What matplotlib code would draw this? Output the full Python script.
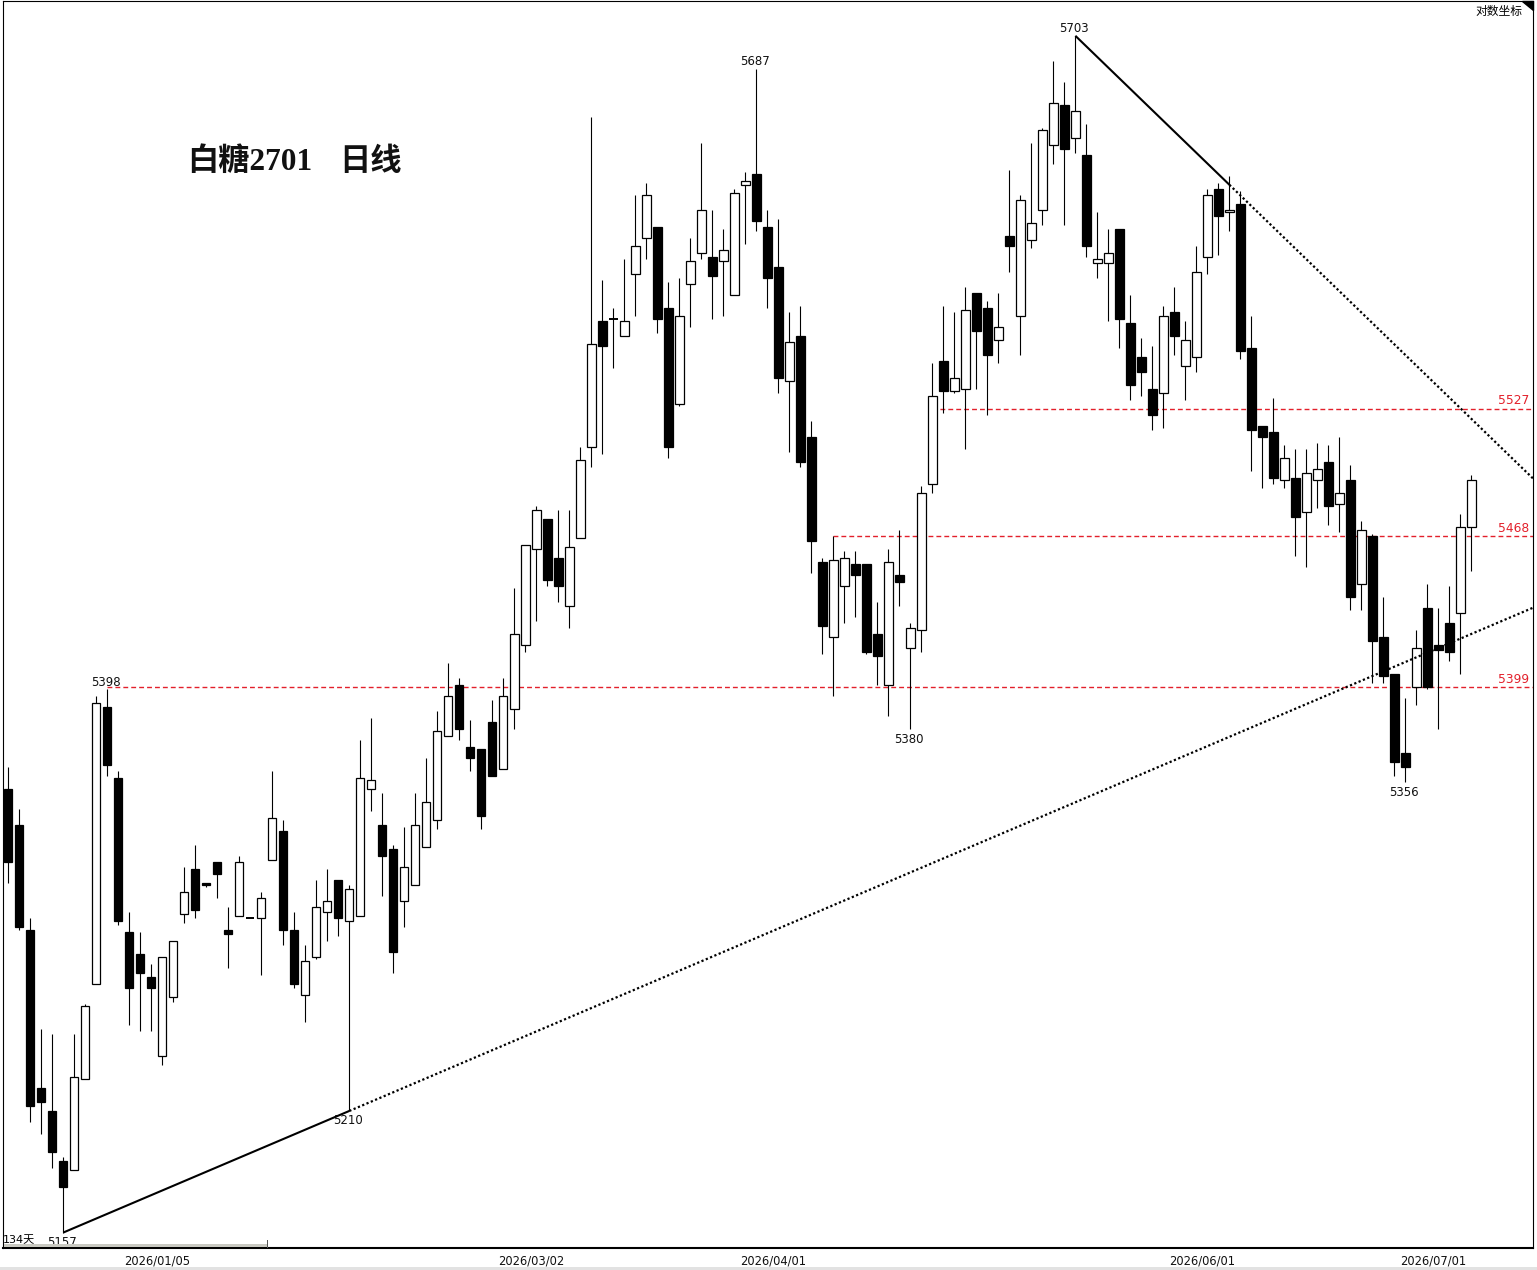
import matplotlib
matplotlib.use("Agg")
import matplotlib.pyplot as plt
from matplotlib.patches import Polygon, Rectangle
from matplotlib.ticker import NullLocator
import numpy as np

plt.rcParams['font.family'] = ['DejaVu Sans', 'Noto Sans CJK SC']

# ---------------- data ----------------
opens = [5353, 5337, 5290, 5220, 5210, 5188, 5184, 5224, 5266, 5390,
         5358, 5289, 5279, 5269, 5234, 5260, 5297, 5317, 5311, 5320,
         5290, 5296, 5295, 5295, 5321, 5334, 5290, 5261, 5278, 5298,
         5312, 5294, 5296, 5353, 5337, 5326, 5303, 5310, 5327, 5339,
         5377, 5400, 5372, 5371, 5383, 5362, 5389, 5418, 5462, 5476,
         5458, 5436, 5467, 5509, 5568, 5569, 5561, 5590, 5607, 5612,
         5574, 5529, 5585, 5600, 5598, 5596, 5580, 5632, 5637, 5612,
         5593, 5540, 5561, 5514, 5456, 5422, 5445, 5455, 5455, 5423,
         5400, 5450, 5417, 5425, 5492, 5549, 5535, 5536, 5581, 5574,
         5559, 5608, 5570, 5606, 5620, 5651, 5670, 5654, 5646, 5595,
         5595, 5611, 5567, 5551, 5536, 5534, 5572, 5547, 5551, 5598,
         5630, 5619, 5623, 5555, 5519, 5516, 5494, 5495, 5479, 5494,
         5502, 5483, 5494, 5446, 5468, 5422, 5405, 5369, 5399, 5435,
         5418, 5428, 5433, 5472]
highs = [5363, 5344, 5295, 5246, 5244, 5190, 5244, 5257, 5395, 5398,
         5361, 5298, 5289, 5275, 5278, 5285, 5318, 5328, 5311, 5320,
         5300, 5323, 5295, 5307, 5361, 5339, 5298, 5283, 5312, 5317,
         5312, 5310, 5375, 5385, 5351, 5328, 5336, 5351, 5367, 5388,
         5410, 5403, 5384, 5371, 5393, 5403, 5444, 5464, 5482, 5476,
         5480, 5480, 5509, 5664, 5587, 5574, 5597, 5627, 5633, 5612,
         5586, 5588, 5607, 5652, 5620, 5611, 5630, 5638, 5687, 5620,
         5616, 5572, 5575, 5521, 5458, 5468, 5461, 5461, 5455, 5438,
         5462, 5471, 5428, 5491, 5548, 5575, 5572, 5584, 5581, 5577,
         5581, 5639, 5627, 5652, 5659, 5691, 5681, 5703, 5661, 5619,
         5611, 5611, 5580, 5560, 5556, 5575, 5584, 5568, 5603, 5630,
         5633, 5636, 5629, 5570, 5519, 5532, 5510, 5508, 5508, 5511,
         5510, 5514, 5501, 5475, 5469, 5440, 5405, 5394, 5425, 5446,
         5435, 5445, 5478, 5496]
lows = [5311, 5290, 5205, 5200, 5185, 5157, 5184, 5224, 5266, 5359,
        5292, 5248, 5245, 5245, 5230, 5258, 5293, 5295, 5309, 5304,
        5273, 5296, 5295, 5270, 5321, 5283, 5264, 5249, 5277, 5285,
        5287, 5210, 5296, 5343, 5305, 5271, 5291, 5310, 5327, 5335,
        5377, 5375, 5361, 5335, 5359, 5362, 5380, 5415, 5429, 5445,
        5438, 5426, 5467, 5500, 5506, 5546, 5561, 5570, 5597, 5562,
        5504, 5528, 5565, 5597, 5569, 5570, 5580, 5604, 5610, 5574,
        5534, 5507, 5500, 5451, 5414, 5395, 5428, 5431, 5414, 5400,
        5386, 5436, 5380, 5415, 5488, 5525, 5534, 5508, 5536, 5524,
        5548, 5591, 5552, 5602, 5613, 5642, 5613, 5647, 5598, 5588,
        5568, 5555, 5531, 5533, 5517, 5518, 5552, 5531, 5544, 5590,
        5599, 5610, 5550, 5498, 5490, 5492, 5490, 5459, 5454, 5481,
        5473, 5470, 5434, 5434, 5401, 5401, 5359, 5356, 5391, 5398,
        5380, 5411, 5405, 5452]
closes = [5320, 5291, 5212, 5214, 5192, 5177, 5225, 5256, 5392, 5364,
          5294, 5264, 5271, 5264, 5278, 5285, 5307, 5299, 5310, 5315,
          5288, 5320, 5295, 5304, 5340, 5290, 5266, 5276, 5300, 5303,
          5295, 5308, 5358, 5357, 5323, 5280, 5318, 5337, 5347, 5379,
          5395, 5380, 5367, 5341, 5359, 5395, 5423, 5464, 5480, 5448,
          5445, 5463, 5503, 5557, 5556, 5569, 5568, 5603, 5627, 5569,
          5509, 5570, 5596, 5620, 5589, 5601, 5628, 5634, 5615, 5588,
          5541, 5558, 5502, 5466, 5427, 5457, 5458, 5450, 5415, 5413,
          5456, 5447, 5426, 5488, 5533, 5535, 5541, 5573, 5563, 5552,
          5565, 5603, 5625, 5614, 5658, 5671, 5649, 5667, 5603, 5597,
          5600, 5569, 5538, 5544, 5524, 5570, 5561, 5559, 5591, 5627,
          5617, 5620, 5554, 5517, 5514, 5495, 5504, 5477, 5497, 5499,
          5482, 5488, 5440, 5471, 5420, 5404, 5365, 5363, 5417, 5399,
          5416, 5415, 5472, 5494]

date_labels = ['2026/01/05', '2026/03/02', '2026/04/01', '2026/06/01', '2026/07/01']
date_index = [14, 48, 70, 109, 130]

levels = [5527, 5468, 5399]
level_start = [84, 75, 9]

support_idx = [5, 31]
support_price = [5157, 5210]
resist_idx = [97, 111]
resist_price = [5703, 5632]

mark_idx = [5, 31, 9, 68, 97, 82, 127]
mark_side = ['low', 'low', 'high', 'high', 'high', 'low', 'low']

title = '白糖2701 日线'
n_days_label = '134天'
scale_label = '对数坐标'

# ---------------- figure ----------------
W, H = 1537, 1270
fig = plt.figure(figsize=(W / 100, H / 100), dpi=100)
fig.patch.set_facecolor('white')
ax = fig.add_axes([3 / W, 22 / H, 1530 / W, 1247 / H])
ax.set_yscale('log')
XMIN, XMAX = -0.48, 138.6
ax.set_xlim(XMIN, XMAX)
ax.set_ylim(5150.3, 5719.7)

o = np.array(opens, float)
h = np.array(highs, float)
l = np.array(lows, float)
c = np.array(closes, float)
x = np.arange(len(o))

# wicks
ax.vlines(x, l, h, colors='k', linewidth=0.8, zorder=2)

# bodies
bw = 0.76
up = c > o
down = c < o
flat = c == o
bot = np.minimum(o, c)
hgt = np.abs(c - o)
ax.bar(x[up], hgt[up], bottom=bot[up], width=bw, facecolor='white',
       edgecolor='k', linewidth=0.9, zorder=3)
ax.bar(x[down], hgt[down], bottom=bot[down], width=bw, facecolor='black',
       edgecolor='k', linewidth=0.9, zorder=3)
ax.hlines(c[flat], x[flat] - bw / 2, x[flat] + bw / 2, colors='k',
          linewidth=1.4, zorder=3)

# trend lines (straight in log-price space)
def trend(ix, pr, xs):
    lp = np.log(pr)
    s = (lp[1] - lp[0]) / (ix[1] - ix[0])
    return np.exp(lp[0] + s * (xs - ix[0]))

for ix, pr in ((support_idx, support_price), (resist_idx, resist_price)):
    xs1 = np.linspace(ix[0], ix[1], 50)
    ax.plot(xs1, trend(ix, pr, xs1), color='k', lw=1.5, zorder=4,
            solid_capstyle='butt')
    xs2 = np.linspace(ix[1], XMAX, 400)
    ax.plot(xs2, trend(ix, pr, xs2), color='k', lw=1.6, zorder=4,
            linestyle=(0, (1, 1.1)), dash_capstyle='butt')

# horizontal levels
red = '#e3202b'
for lv, st in zip(levels, level_start):
    ax.hlines(lv, st, XMAX, colors=red, linewidth=1.0,
              linestyles=[(0, (3.5, 2.2))], zorder=1)
    ax.annotate(f'{lv}', xy=(1, lv), xycoords=('axes fraction', 'data'),
                xytext=(-2.5, 1.0), textcoords='offset points', ha='right',
                va='bottom', color=red, fontsize=8.8)

# high / low marks
for i, side in zip(mark_idx, mark_side):
    if side == 'high':
        ax.annotate(f'{highs[i]}', xy=(i, highs[i]), xytext=(-0.8, 0.5),
                    textcoords='offset points', ha='center', va='bottom',
                    fontsize=8.5, color='#111111')
    else:
        ax.annotate(f'{lows[i]}', xy=(i, lows[i]), xytext=(-0.8, -2.5),
                    textcoords='offset points', ha='center', va='top',
                    fontsize=8.5, color='#111111')

# axes cosmetics
ax.set_yticks([])
ax.yaxis.set_minor_locator(NullLocator())
ax.tick_params(axis='y', which='both', left=False, labelleft=False)
ax.set_xticks([d - 0.5 for d in date_index])
ax.set_xticklabels(date_labels, fontsize=8.3)
ax.tick_params(axis='x', length=0, pad=4.5, colors='#111111')
for side in ('left', 'right', 'top'):
    ax.spines[side].set_linewidth(0.8)
    ax.spines[side].set_color('k')
ax.spines['bottom'].set_linewidth(1.5)
ax.spines['bottom'].set_color('k')

# texts in figure pixel coordinates
def fx(px):
    return px / W

def fy(py):
    return 1 - py / H

title_parts = title.split(' ')
title_font = ['Liberation Serif', 'Noto Sans CJK SC']
fig.text(fx(187), fy(162), title_parts[0], fontsize=22.5, fontweight='bold',
         family=title_font, va='center', ha='left', color='#111111')
fig.text(fx(339), fy(162), title_parts[1], fontsize=22.5, fontweight='bold',
         family=title_font, va='center', ha='left', color='#111111')
fig.text(fx(1522), fy(11), scale_label, fontsize=8.5,
         family=['Noto Sans CJK SC'], va='center', ha='right')
fig.text(fx(3), fy(1240), n_days_label, fontsize=8,
         family=['DejaVu Sans', 'Noto Sans CJK SC'], va='center', ha='left')

fig.add_artist(Polygon([(fx(1522), fy(1)), (fx(1533), fy(1)), (fx(1533), fy(10))],
                       closed=True, transform=fig.transFigure, color='k'))
fig.add_artist(Rectangle((fx(4), fy(1247)), 264 / W, 3.5 / H,
                         transform=fig.transFigure, color='#c9c9c1', lw=0))
fig.add_artist(Rectangle((fx(267), fy(1248)), 1 / W, 8 / H,
                         transform=fig.transFigure, color='#555555', lw=0))
fig.add_artist(Rectangle((0, 0), 1, 3 / H, transform=fig.transFigure,
                         color='#e2e2e2', lw=0))

fig.savefig('out.png', dpi=100, facecolor='white')
